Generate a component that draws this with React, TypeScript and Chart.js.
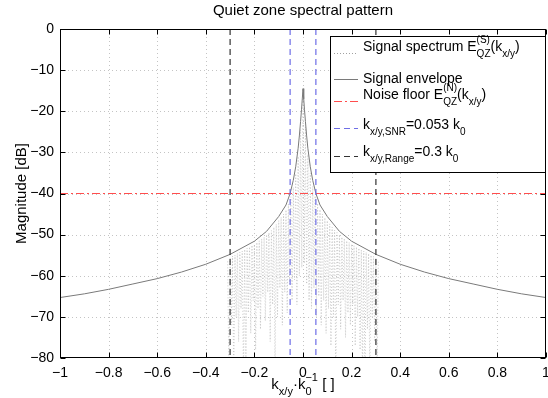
import React, { useEffect, useRef } from 'react';
import { Chart, registerables } from 'chart.js';
Chart.register(...registerables);

const FONT = '"Liberation Sans", Arial, Helvetica, sans-serif';

const titleText = 'Quiet zone spectral pattern';
const yTitle = 'Magnitude [dB]';

const xTicks = [-1, -0.8, -0.6, -0.4, -0.2, 0, 0.2, 0.4, 0.6, 0.8, 1];
const yTicks = [0, -10, -20, -30, -40, -50, -60, -70, -80];

const envelopeK = [-1, -0.9, -0.8, -0.7, -0.6, -0.5, -0.4, -0.3, -0.2, -0.15, -0.1, -0.07, -0.053, -0.04, -0.03, -0.02, -0.015, -0.01, -0.006, -0.003, 0,
  0.003, 0.006, 0.01, 0.015, 0.02, 0.03, 0.04, 0.053, 0.07, 0.1, 0.15, 0.2, 0.3, 0.4, 0.5, 0.6, 0.7, 0.8, 0.9, 1];
const envelopeDb = [-65.3, -64.4, -63.3, -62.0, -60.7, -59.1, -57.2, -54.8, -51.6, -49.2, -45.6, -42.8, -40.0, -36.8, -33.5, -29.0, -26.0, -22.5, -19.5, -17.0, -14.5,
  -17.0, -19.5, -22.5, -26.0, -29.0, -33.5, -36.8, -40.0, -42.8, -45.6, -49.2, -51.6, -54.8, -57.2, -59.1, -60.7, -62.0, -63.3, -64.4, -65.3];

const spectrumK = [-0.31, -0.305, -0.3, -0.295, -0.29, -0.285, -0.28, -0.275, -0.27, -0.265, -0.26, -0.255, -0.25, -0.245, -0.24, -0.235, -0.23, -0.225, -0.22, -0.215,
  -0.21, -0.205, -0.2, -0.195, -0.19, -0.185, -0.18, -0.175, -0.17, -0.165, -0.16, -0.155, -0.15, -0.145, -0.14, -0.135, -0.13, -0.125, -0.12, -0.115,
  -0.11, -0.105, -0.1, -0.095, -0.09, -0.085, -0.08, -0.075, -0.07, -0.065, -0.06, -0.055, -0.05, -0.045, -0.04, -0.035, -0.03, -0.025, -0.02, -0.015,
  -0.01, -0.005, 0, 0.005, 0.01, 0.015, 0.02, 0.025, 0.03, 0.035, 0.04, 0.045, 0.05, 0.055, 0.06, 0.065, 0.07, 0.075, 0.08, 0.085,
  0.09, 0.095, 0.1, 0.105, 0.11, 0.115, 0.12, 0.125, 0.13, 0.135, 0.14, 0.145, 0.15, 0.155, 0.16, 0.165, 0.17, 0.175, 0.18, 0.185,
  0.19, 0.195, 0.2, 0.205, 0.21, 0.215, 0.22, 0.225, 0.23, 0.235, 0.24, 0.245, 0.25, 0.255, 0.26, 0.265, 0.27, 0.275, 0.28, 0.285,
  0.29, 0.295, 0.3, 0.305, 0.31];
const spectrumDb = [-56.5, -85, -55.8, -72, -55.2, -85, -55.0, -70, -54.6, -76, -54.3, -68, -54.0, -85, -53.6, -85, -53.3, -69, -53.0, -74,
  -52.6, -66, -52.4, -78, -51.9, -68, -51.5, -73, -51.0, -65, -50.6, -71, -50.0, -64, -49.5, -76, -49.0, -67, -48.2, -85,
  -47.5, -70, -46.6, -63, -45.8, -72, -45.0, -64, -44.0, -69, -42.5, -62, -40.8, -66, -38.5, -61, -35.2, -67, -31.0, -60,
  -24.5, -58, -14.5, -57, -23.8, -62, -30.5, -66, -35.0, -68, -38.3, -63, -40.6, -70, -42.4, -65, -43.9, -72, -45.0, -66,
  -45.9, -74, -46.6, -68, -47.4, -77, -48.2, -70, -48.9, -85, -49.5, -67, -50.0, -73, -50.6, -66, -51.0, -75, -51.5, -69,
  -51.9, -72, -52.3, -67, -52.7, -77, -53.0, -70, -53.3, -78, -53.7, -85, -54.0, -85, -54.3, -73, -54.6, -85, -55.0, -70,
  -55.3, -76, -55.8, -85, -56.6];

const noiseFloorDb = -40;
const snrK = 0.053;
const rangeK = 0.3;

const C_SPEC = '#bcbcbc';
const C_ENV = '#7a7a7a';
const C_NOISE = '#ff4d4d';
const C_SNR = '#6e6ee6';
const C_RANGE = '#333333';
const DASH_NOISE = [8, 3, 2, 3];
const DASH = [6, 4];

type Seg = { t?: string; sub?: string; sup?: string };

function segW(ctx: CanvasRenderingContext2D, s: Seg, base: number, small: number) {
  if (s.t !== undefined) { ctx.font = `${base}px ${FONT}`; return ctx.measureText(s.t).width; }
  ctx.font = `${small}px ${FONT}`;
  return Math.max(s.sub ? ctx.measureText(s.sub).width : 0, s.sup ? ctx.measureText(s.sup).width : 0);
}

function drawRich(ctx: CanvasRenderingContext2D, segs: Seg[], x: number, y: number, align: 'left' | 'center', base = 14, small = 10, subDy = 6, supDy = -7) {
  const total = segs.reduce((a, s) => a + segW(ctx, s, base, small), 0);
  let cx = align === 'center' ? x - total / 2 : x;
  ctx.textBaseline = 'middle';
  ctx.textAlign = 'left';
  ctx.fillStyle = '#000';
  for (const s of segs) {
    const w = segW(ctx, s, base, small);
    if (s.t !== undefined) {
      ctx.font = `${base}px ${FONT}`;
      ctx.fillText(s.t, cx, y);
    } else {
      ctx.font = `${small}px ${FONT}`;
      if (s.sub) ctx.fillText(s.sub, cx, y + subDy);
      if (s.sup) ctx.fillText(s.sup, cx, y + supDy);
    }
    cx += w;
  }
}

function seg(ctx: CanvasRenderingContext2D, x1: number, y1: number, x2: number, y2: number) {
  ctx.beginPath();
  ctx.moveTo(x1, y1);
  ctx.lineTo(x2, y2);
  ctx.stroke();
}

const legendRows: { textY: number; lineY: number; color: string; dash: number[]; width: number; segs: Seg[] }[] = [
  { textY: 47, lineY: 53, color: '#a0a0a0', dash: [1, 2], width: 1, segs: [{ t: 'Signal spectrum E' }, { sup: '(S)', sub: 'QZ' }, { t: '(k' }, { sub: 'x/y' }, { t: ')' }] },
  { textY: 79, lineY: 79, color: C_ENV, dash: [], width: 1, segs: [{ t: 'Signal envelope' }] },
  { textY: 95, lineY: 101, color: C_NOISE, dash: DASH_NOISE, width: 1.2, segs: [{ t: 'Noise floor E' }, { sup: '(N)', sub: 'QZ' }, { t: '(k' }, { sub: 'x/y' }, { t: ')' }] },
  { textY: 125, lineY: 128, color: C_SNR, dash: DASH, width: 1.2, segs: [{ t: 'k' }, { sub: 'x/y,SNR' }, { t: '=0.053 k' }, { sub: '0' }] },
  { textY: 152, lineY: 156, color: C_RANGE, dash: DASH, width: 1.2, segs: [{ t: 'k' }, { sub: 'x/y,Range' }, { t: '=0.3 k' }, { sub: '0' }] },
];

const decor = {
  id: 'decor',
  beforeDatasetsDraw(chart: any) {
    const { ctx, chartArea: a, scales } = chart;
    const x = scales.x, y = scales.y;
    ctx.save();
    ctx.strokeStyle = '#c4c4c4';
    ctx.lineWidth = 1;
    ctx.setLineDash([1, 3]);
    for (const v of xTicks) {
      if (v === xTicks[0] || v === xTicks[xTicks.length - 1]) continue;
      const px = Math.round(x.getPixelForValue(v)) + 0.5;
      seg(ctx, px, a.top, px, a.bottom);
    }
    for (const v of yTicks) {
      if (v === yTicks[0] || v === yTicks[yTicks.length - 1]) continue;
      const py = Math.round(y.getPixelForValue(v)) + 0.5;
      seg(ctx, a.left, py, a.right, py);
    }
    ctx.restore();
  },
  afterDatasetsDraw(chart: any) {
    const { ctx, chartArea: a, scales } = chart;
    const x = scales.x, y = scales.y;
    ctx.save();
    ctx.setLineDash([]);
    ctx.strokeStyle = '#000';
    ctx.lineWidth = 1;
    const L = Math.round(a.left) + 0.5, R = Math.round(a.right) - 0.5, T = Math.round(a.top) + 0.5, B = Math.round(a.bottom) - 0.5;
    ctx.strokeRect(L, T, R - L, B - T);
    const tl = 5;
    for (const v of xTicks) {
      const px = Math.round(x.getPixelForValue(v)) + 0.5;
      seg(ctx, px, B, px, B - tl);
      seg(ctx, px, T, px, T + tl);
    }
    for (const v of yTicks) {
      const py = Math.round(y.getPixelForValue(v)) + 0.5;
      seg(ctx, L, py, L + tl, py);
      seg(ctx, R, py, R - tl, py);
    }
    // legend
    const lx = 330.5, ly = 36.5, lr = R, lb = 172.5;
    ctx.fillStyle = '#fff';
    ctx.fillRect(lx, ly, lr - lx, lb - ly);
    ctx.strokeStyle = '#000';
    ctx.strokeRect(lx, ly, lr - lx, lb - ly);
    for (const r of legendRows) {
      ctx.strokeStyle = r.color;
      ctx.lineWidth = r.width;
      ctx.setLineDash(r.dash);
      seg(ctx, 334, r.lineY + 0.5, 358, r.lineY + 0.5);
      ctx.setLineDash([]);
      drawRich(ctx, r.segs, 363, r.textY, 'left', 14, 10, 7, -7);
    }
    ctx.restore();
  },
  afterDraw(chart: any) {
    const { ctx, chartArea: a } = chart;
    ctx.save();
    const cx = (a.left + a.right) / 2;
    ctx.fillStyle = '#000';
    ctx.font = `15px ${FONT}`;
    ctx.textAlign = 'center';
    ctx.textBaseline = 'middle';
    ctx.fillText(titleText, cx, 11);
    drawRich(ctx, [{ t: 'k' }, { sub: 'x/y' }, { t: '·k' }, { sub: '0', sup: '\u22121' }, { t: ' [ ]' }], cx, 385, 'center', 15, 11, 7, -7);
    ctx.translate(22, (a.top + a.bottom) / 2);
    ctx.rotate(-Math.PI / 2);
    ctx.font = `15px ${FONT}`;
    ctx.textAlign = 'center';
    ctx.textBaseline = 'middle';
    ctx.fillText(yTitle, 0, 0);
    ctx.restore();
  },
};

function fmt(v: number) {
  const r = Math.round(v * 10) / 10;
  if (r === 0) return '0';
  return (r < 0 ? '\u2212' : '') + String(Math.abs(r));
}

export default function App() {
  const ref = useRef<HTMLCanvasElement | null>(null);
  useEffect(() => {
    document.body.style.margin = '0';
    const canvas = ref.current!;
    const pts = (xs: number[], ys: number[]) => xs.map((k, i) => ({ x: k, y: ys[i] }));
    const vline = (k: number) => [{ x: k, y: 0 }, { x: k, y: -80 }];
    const chart = new Chart(canvas, {
      type: 'line',
      data: {
        datasets: [
          { data: pts(spectrumK, spectrumDb), borderColor: C_SPEC, borderWidth: 0.8, borderDash: [1, 2], pointRadius: 0, order: 5 },
          { data: pts(envelopeK, envelopeDb), borderColor: C_ENV, borderWidth: 1, pointRadius: 0, order: 4 },
          { data: [{ x: -1, y: noiseFloorDb }, { x: 1, y: noiseFloorDb }], borderColor: C_NOISE, backgroundColor: C_NOISE, borderWidth: 1.2, borderDash: DASH_NOISE, pointRadius: 0, order: 3 },
          { data: vline(-snrK), borderColor: C_SNR, borderWidth: 1.2, borderDash: DASH, pointRadius: 0, order: 2 },
          { data: vline(snrK), borderColor: C_SNR, borderWidth: 1.2, borderDash: DASH, pointRadius: 0, order: 2 },
          { data: vline(-rangeK), borderColor: C_RANGE, borderWidth: 1.2, borderDash: DASH, pointRadius: 0, order: 1 },
          { data: vline(rangeK), borderColor: C_RANGE, borderWidth: 1.2, borderDash: DASH, pointRadius: 0, order: 1 },
        ] as any,
      },
      options: {
        animation: false,
        responsive: false,
        devicePixelRatio: 1,
        layout: { padding: { top: 29, right: 2, left: 0, bottom: 0 } },
        plugins: { legend: { display: false }, title: { display: false }, tooltip: { enabled: false } },
        scales: {
          x: {
            type: 'linear', min: -1, max: 1,
            afterBuildTicks: (s: any) => { s.ticks = xTicks.map((v) => ({ value: v })); },
            grid: { display: false, drawTicks: false },
            border: { display: false },
            ticks: { font: { family: FONT, size: 14 }, color: '#000', padding: 7, maxRotation: 0, autoSkip: false, callback: (v: any) => fmt(Number(v)) },
            afterFit: (s: any) => { s.height = 40; s.paddingLeft = 0; s.paddingRight = 0; },
          },
          y: {
            type: 'linear', min: -80, max: 0,
            afterBuildTicks: (s: any) => { s.ticks = yTicks.map((v) => ({ value: v })); },
            grid: { display: false, drawTicks: false },
            border: { display: false },
            ticks: { font: { family: FONT, size: 14 }, color: '#000', padding: 6, autoSkip: false, callback: (v: any) => fmt(Number(v)) },
            afterFit: (s: any) => { s.width = 60; s.paddingTop = 0; s.paddingBottom = 0; },
          },
        },
      } as any,
      plugins: [decor],
    });
    return () => chart.destroy();
  }, []);
  return (
    <div style={{ width: 548, height: 398 }}>
      <canvas ref={ref} width={548} height={398} style={{ display: 'block' }} />
    </div>
  );
}
